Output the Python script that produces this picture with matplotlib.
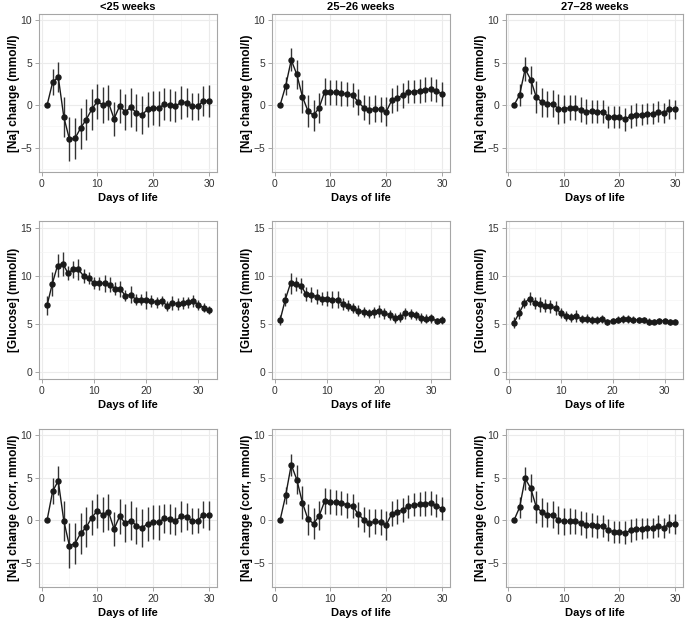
import numpy as np
import matplotlib
matplotlib.use("Agg")
import matplotlib.pyplot as plt
from matplotlib.ticker import MultipleLocator

plt.rcParams['font.family'] = ['Liberation Sans', 'DejaVu Sans']

# group titles (gestational age)
groups = ["<25 weeks", "25\u201326 weeks", "27\u201328 weeks"]

na_days = list(range(1, 31))
glu_days = list(range(1, 33))

# [Na] change (mmol/l), mean and half-width of error bar
na_lt25 = [0, 2.7, 3.3, -1.4, -4.0, -3.9, -2.7, -1.7, -0.5, 0.45, 0.0, 0.3, -1.6, -0.1, -0.8,
           -0.25, -0.9, -1.15, -0.5, -0.3, -0.35, 0.1, 0.0, -0.15, 0.35, 0.3, -0.15, -0.15, 0.5, 0.5]
na_lt25_err = [0, 1.55, 1.8, 2.3, 2.6, 2.4, 2.4, 2.45, 2.4, 2.05, 2.15, 2.05, 2.0, 2.05, 2.15,
               2.3, 2.15, 2.25, 2.1, 2.0, 2.05, 1.9, 1.9, 1.85, 1.95, 1.7, 1.6, 1.6, 1.75, 1.9]
na_2526 = [0, 2.25, 5.3, 3.6, 1.0, -0.7, -1.2, -0.3, 1.6, 1.5, 1.5, 1.4, 1.3, 1.2, 0.35,
           -0.3, -0.6, -0.4, -0.5, -0.8, 0.55, 0.85, 1.15, 1.55, 1.6, 1.7, 1.8, 1.9, 1.7, 1.3]
na_2526_err = [0, 1.05, 1.35, 1.7, 1.95, 1.85, 1.8, 1.75, 1.55, 1.5, 1.45, 1.45, 1.45, 1.4, 1.5,
               1.5, 1.65, 1.55, 1.5, 1.7, 1.45, 1.5, 1.5, 1.35, 1.35, 1.4, 1.45, 1.45, 1.35, 1.4]
na_2728 = [0, 1.2, 4.25, 3.0, 0.95, 0.35, 0.15, 0.15, -0.45, -0.45, -0.3, -0.3, -0.55, -0.75, -0.7,
           -0.8, -0.75, -1.35, -1.35, -1.4, -1.65, -1.3, -1.1, -1.1, -1.0, -1.0, -0.75, -0.95, -0.45, -0.5]
na_2728_err = [0, 1.25, 1.4, 1.65, 1.9, 1.7, 1.55, 1.6, 1.75, 1.6, 1.5, 1.5, 1.45, 1.5, 1.35,
               1.35, 1.3, 1.3, 1.3, 1.3, 1.35, 1.35, 1.3, 1.2, 1.2, 1.2, 1.25, 1.15, 1.2, 1.15]

# [Glucose] (mmol/l)
glu_lt25 = [6.95, 9.2, 11.1, 11.3, 10.3, 10.7, 10.7, 10.0, 9.8, 9.25, 9.25, 9.25, 9.1, 8.7, 8.65, 7.95,
            8.05, 7.55, 7.55, 7.5, 7.4, 7.25, 7.4, 6.9, 7.2, 7.1, 7.2, 7.25, 7.4, 7.0, 6.7, 6.45]
glu_lt25_err = [1.0, 1.25, 1.2, 1.25, 0.75, 0.9, 1.1, 0.7, 0.6, 0.6, 0.7, 0.9, 0.8, 0.7, 0.8, 0.6,
                0.9, 0.6, 0.6, 0.9, 0.6, 0.55, 0.5, 0.5, 0.75, 0.6, 0.6, 0.55, 0.6, 0.5, 0.45, 0.4]
glu_2526 = [5.4, 7.55, 9.25, 9.15, 9.0, 8.1, 8.05, 7.85, 7.65, 7.65, 7.55, 7.55, 7.1, 6.9, 6.65, 6.4,
            6.25, 6.1, 6.2, 6.35, 6.1, 5.95, 5.65, 5.75, 6.1, 6.05, 5.9, 5.6, 5.55, 5.6, 5.3, 5.4]
glu_2526_err = [0.5, 0.7, 1.1, 0.7, 0.75, 0.75, 0.8, 0.8, 0.7, 0.75, 0.85, 0.9, 0.6, 0.6, 0.5, 0.6,
                0.55, 0.5, 0.6, 0.65, 0.55, 0.5, 0.5, 0.5, 0.6, 0.55, 0.5, 0.5, 0.45, 0.45, 0.35, 0.4]
glu_2728 = [5.15, 6.15, 7.2, 7.65, 7.2, 7.05, 6.9, 6.85, 6.65, 6.15, 5.8, 5.7, 5.85, 5.5, 5.55, 5.4,
            5.4, 5.5, 5.2, 5.35, 5.45, 5.55, 5.5, 5.45, 5.4, 5.4, 5.25, 5.25, 5.3, 5.35, 5.2, 5.25]
glu_2728_err = [0.55, 0.6, 0.5, 0.65, 0.6, 0.8, 0.7, 0.7, 0.75, 0.55, 0.5, 0.45, 0.6, 0.4, 0.45, 0.4,
                0.4, 0.4, 0.3, 0.3, 0.35, 0.4, 0.4, 0.35, 0.35, 0.35, 0.35, 0.3, 0.3, 0.3, 0.3, 0.3]

# [Na] change corrected for glucose (mmol/l)
nac_lt25 = [0, 3.4, 4.6, -0.1, -3.0, -2.75, -1.55, -0.85, 0.3, 1.1, 0.65, 1.0, -1.05, 0.45, -0.35,
            -0.05, -0.65, -0.95, -0.4, -0.2, -0.25, 0.2, 0.15, -0.1, 0.45, 0.4, -0.1, -0.05, 0.65, 0.55]
nac_lt25_err = [0, 1.5, 1.7, 2.35, 2.65, 2.4, 2.4, 2.35, 2.05, 2.0, 2.1, 2.1, 2.0, 2.05, 2.2,
                2.3, 2.2, 2.25, 2.0, 2.0, 2.05, 1.75, 1.8, 1.7, 1.85, 1.6, 1.5, 1.5, 1.6, 1.75]
nac_2526 = [0, 2.9, 6.5, 4.75, 2.05, 0.1, -0.4, 0.5, 2.25, 2.15, 2.1, 2.05, 1.75, 1.65, 0.7,
            0.05, -0.35, -0.15, -0.25, -0.6, 0.75, 1.0, 1.2, 1.65, 1.8, 1.85, 1.95, 2.0, 1.7, 1.35]
nac_2526_err = [0, 1.0, 1.3, 1.7, 1.95, 1.8, 1.8, 1.7, 1.5, 1.45, 1.45, 1.4, 1.45, 1.4, 1.45,
                1.45, 1.6, 1.5, 1.5, 1.7, 1.45, 1.5, 1.45, 1.35, 1.35, 1.4, 1.45, 1.4, 1.35, 1.35]
nac_2728 = [0, 1.5, 4.9, 3.75, 1.55, 0.95, 0.65, 0.65, 0.0, -0.15, -0.1, -0.15, -0.35, -0.6, -0.6,
            -0.7, -0.65, -1.2, -1.35, -1.35, -1.5, -1.2, -1.0, -1.0, -0.95, -0.95, -0.7, -0.9, -0.4, -0.45]
nac_2728_err = [0, 1.25, 1.35, 1.65, 1.85, 1.7, 1.5, 1.55, 1.65, 1.55, 1.5, 1.5, 1.45, 1.5, 1.4,
                1.35, 1.3, 1.3, 1.3, 1.3, 1.35, 1.35, 1.3, 1.25, 1.2, 1.2, 1.25, 1.15, 1.15, 1.15]

rows = [
    dict(ylabel="[Na] change (mmol/l)", days=na_days, ylim=(-7.85, 10.7), xlim=(-0.45, 31.45),
         yticks=[-5, 0, 5, 10], series=[(na_lt25, na_lt25_err), (na_2526, na_2526_err), (na_2728, na_2728_err)]),
    dict(ylabel="[Glucose] (mmol/l)", days=glu_days, ylim=(-0.75, 15.75), xlim=(-0.55, 33.55),
         yticks=[0, 5, 10, 15], series=[(glu_lt25, glu_lt25_err), (glu_2526, glu_2526_err), (glu_2728, glu_2728_err)]),
    dict(ylabel="[Na] change (corr, mmol/l)", days=na_days, ylim=(-7.85, 10.7), xlim=(-0.45, 31.45),
         yticks=[-5, 0, 5, 10], series=[(nac_lt25, nac_lt25_err), (nac_2526, nac_2526_err), (nac_2728, nac_2728_err)]),
]

W, H = 685, 622
fig = plt.figure(figsize=(W / 100, H / 100), dpi=100)

# panel boxes in pixels: (left, right) per column, (top, bottom) per row
col_px = [(39, 217), (272, 450), (506, 683)]
row_px = [(14, 172), (221, 379), (429, 587)]

border = "#a6a6a6"
grid_major = "#ebebeb"
grid_minor = "#f4f4f4"
ink = "#1a1a1a"

for r, row in enumerate(rows):
    for c, (means, errs) in enumerate(row["series"]):
        l, rr = col_px[c]
        t, b = row_px[r]
        ax = fig.add_axes([l / W, 1 - b / H, (rr - l) / W, (b - t) / H])
        days = row["days"]
        ax.errorbar(days, means, yerr=errs, fmt="none", ecolor="#333333", elinewidth=1.0, capsize=0, zorder=3)
        ax.plot(days, means, color=ink, lw=1.0, zorder=4)
        ax.plot(days, means, "o", color=ink, ms=3.6, zorder=5)

        ax.set_xlim(*row["xlim"])
        ax.set_ylim(*row["ylim"])
        ax.set_xticks([0, 10, 20, 30])
        ax.set_yticks(row["yticks"])
        ax.xaxis.set_minor_locator(MultipleLocator(5))
        ax.yaxis.set_minor_locator(MultipleLocator(2.5))
        ax.grid(True, which="major", color=grid_major, lw=0.8)
        ax.grid(True, which="minor", color=grid_minor, lw=0.5)
        ax.tick_params(which="minor", length=0)
        ax.tick_params(which="major", length=3, width=0.7, color=border, labelsize=7.5,
                       labelcolor="#333333", pad=2)
        ax.set_axisbelow(True)
        for sp in ax.spines.values():
            sp.set_color(border)
            sp.set_linewidth(0.8)

        ax.set_xlabel("Days of life", fontsize=8, fontweight="bold", labelpad=3)
        ax.set_ylabel(row["ylabel"], fontsize=8.6, fontweight="bold", labelpad=0.5)
        if r == 0:
            ax.set_title(groups[c], fontsize=8, fontweight="bold", pad=3)

fig.savefig("out.png", dpi=100)
